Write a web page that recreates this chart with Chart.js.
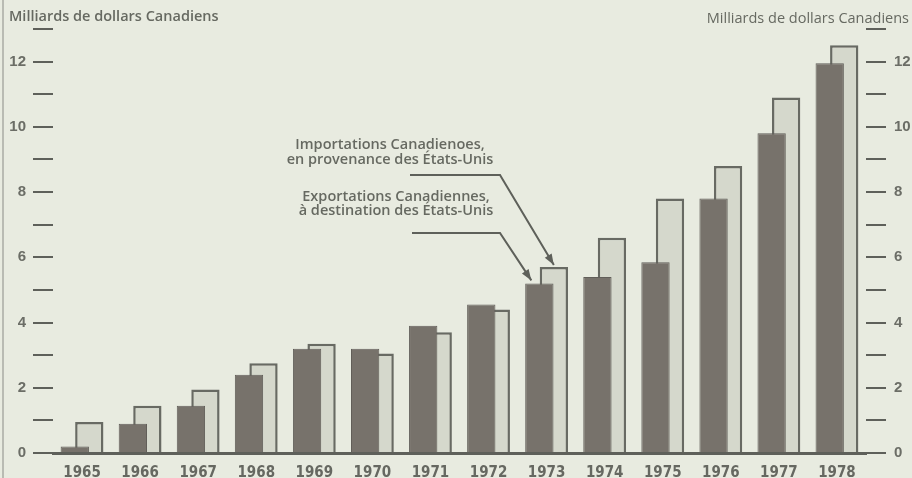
<!DOCTYPE html>
<html>
<head>
<meta charset="utf-8">
<script src="https://cdn.jsdelivr.net/npm/chart.js@4/dist/chart.umd.min.js"></script>
<style>
  html, body { margin: 0; padding: 0; background: #e8ebe0; }
  #wrap { width: 912px; height: 478px; position: relative; }
</style>
</head>
<body>
<div id="wrap"><canvas id="tradeChart"></canvas></div>
<script>
const years = ['1965', '1966', '1967', '1968', '1969', '1970', '1971', '1972', '1973', '1974', '1975', '1976', '1977', '1978'];
// Exportations canadiennes vers les Etats-Unis (milliards $ CAN)
const exportations = [0.2, 0.9, 1.45, 2.4, 3.2, 3.2, 3.9, 4.55, 5.2, 5.4, 5.85, 7.8, 9.8, 11.95];
// Importations canadiennes en provenance des Etats-Unis
const importations = [0.95, 1.45, 1.95, 2.75, 3.35, 3.05, 3.7, 4.4, 5.7, 6.6, 7.8, 8.8, 10.9, 12.5];
const yTicks = { min: 0, max: 13, step: 1 };

const textColor = '#666961';
const lineColor = '#5e605a';

// background, titles, annotations with leader arrows
const decorPlugin = {
    id: 'decor',
    beforeDraw(chart) {
        const { ctx, width, height } = chart;
        ctx.save();
        ctx.fillStyle = '#e8ebe0';
        ctx.fillRect(0, 0, width, height);
        ctx.strokeStyle = '#b9bbb3';
        ctx.lineWidth = 2;
        ctx.beginPath();
        ctx.moveTo(3, 0);
        ctx.lineTo(3, height);
        ctx.stroke();
        ctx.restore();
    },
    afterDraw(chart) {
        const { ctx } = chart;
        ctx.save();
        ctx.fillStyle = textColor;
        ctx.font = '600 14.5px "Open Sans", sans-serif';
        ctx.textBaseline = 'middle';
        ctx.textAlign = 'left';
        ctx.fillText('Milliards de dollars Canadiens', 9, 17);
        ctx.font = '14.5px "Open Sans", sans-serif';
        ctx.textAlign = 'right';
        ctx.fillText('Milliards de dollars Canadiens', 909, 19);

        ctx.font = '600 14.5px "Open Sans", sans-serif';
        ctx.textAlign = 'center';
        ctx.fillText('Importations Canadienoes,', 390, 145);
        ctx.fillText('en provenance des États-Unis', 390, 160);
        ctx.fillText('Exportations Canadiennes,', 396, 197);
        ctx.fillText('à destination des États-Unis', 396, 211);

        const dark = chart.getDatasetMeta(0).data[8];
        const light = chart.getDatasetMeta(1).data[8];
        const arrow = (x0, y0, x1, y1, tx, ty) => {
            ctx.strokeStyle = lineColor;
            ctx.fillStyle = lineColor;
            ctx.lineWidth = 2;
            ctx.beginPath();
            ctx.moveTo(x0, y0);
            ctx.lineTo(x1, y1);
            ctx.lineTo(tx, ty);
            ctx.stroke();
            const a = Math.atan2(ty - y1, tx - x1);
            const len = 11, half = 4;
            ctx.beginPath();
            ctx.moveTo(tx, ty);
            ctx.lineTo(tx - len * Math.cos(a) + half * Math.sin(a), ty - len * Math.sin(a) - half * Math.cos(a));
            ctx.lineTo(tx - len * Math.cos(a) - half * Math.sin(a), ty - len * Math.sin(a) + half * Math.cos(a));
            ctx.closePath();
            ctx.fill();
        };
        arrow(410, 175, 500, 175, light.x, light.y - 2);
        arrow(412, 233, 500, 233, dark.x - 8, dark.y - 3);
        ctx.restore();
    },
};

const yAxis = (position) => ({
    type: 'linear',
    position: position,
    min: yTicks.min,
    max: yTicks.max,
    border: { display: false },
    grid: {
        drawOnChartArea: false,
        drawTicks: true,
        tickLength: 20,
        color: lineColor,
        lineWidth: 2,
    },
    ticks: {
        stepSize: yTicks.step,
        padding: position === 'left' ? 7 : 8,
        color: '#6b6d66',
        font: { family: '"Liberation Sans", Arial, sans-serif', size: 15, weight: '600' },
        callback: (v) => (v % 2 === 0 ? v : ''),
    },
    afterFit(scale) {
        scale.width = position === 'left' ? 53 : 46;
    },
});

const config = {
    type: 'bar',
    data: {
        labels: years,
        datasets: [
            {
                label: 'Exportations Canadiennes, à destination des États-Unis',
                data: exportations,
                backgroundColor: '#77726b',
                borderColor: '#615e59',
                borderWidth: 1,
                yAxisID: 'y',
            },
            {
                label: 'Importations Canadiennes, en provenance des États-Unis',
                data: importations,
                backgroundColor: '#d5d8cc',
                borderColor: '#686a63',
                borderWidth: 2.5,
                yAxisID: 'y',
            },
        ],
    },
    options: {
        responsive: true,
        maintainAspectRatio: false,
        animation: false,
        categoryPercentage: 0.5,
        barPercentage: 1.95,
        layout: { padding: { top: 29, left: 0, right: 0, bottom: 0 } },
        plugins: {
            legend: { display: false },
            tooltip: { enabled: false },
        },
        scales: {
            x: {
                grid: { display: false, drawTicks: false },
                border: { display: true, color: lineColor, width: 3 },
                ticks: {
                    padding: 11,
                    color: '#666861',
                    font: { family: '"Liberation Sans Narrow", "DejaVu Sans Condensed", Arial, sans-serif', size: 15, weight: 'bold' },
                },
                afterFit(scale) {
                    scale.height = 25;
                },
            },
            y: yAxis('left'),
            y2: yAxis('right'),
        },
    },
    plugins: [decorPlugin],
};

const tradeChart = new Chart(document.getElementById('tradeChart'), config);
</script>
</body>
</html>
